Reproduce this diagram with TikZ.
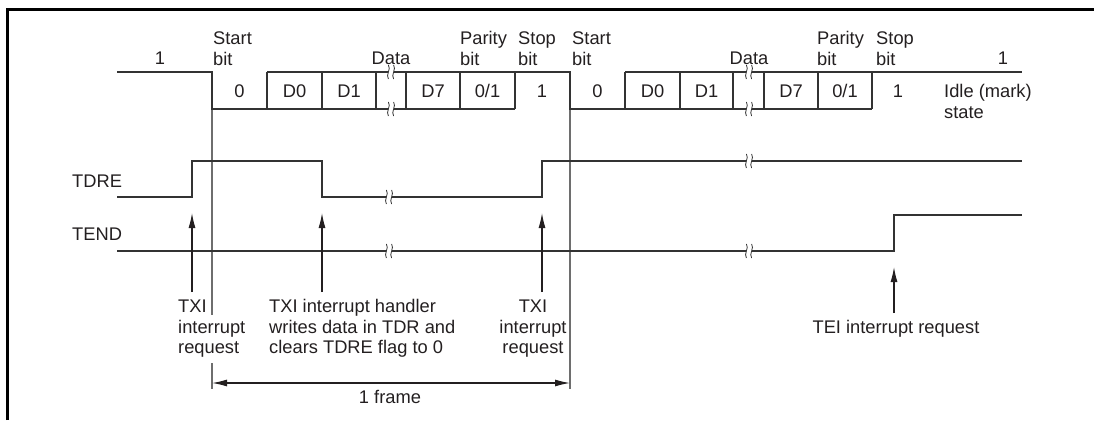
\documentclass[tikz,border=0pt]{standalone}
\usepackage{fontspec}
\setmainfont{Liberation Sans}
\usetikzlibrary{arrows.meta}
\definecolor{ink}{HTML}{231F20}
\definecolor{sigc}{HTML}{333333}
\definecolor{guidec}{HTML}{6E6E6E}
\newcommand\brkmark[2]{%
  \fill[white] (#1-2.6,#2-5) rectangle (#1+2.6,#2+5);
  \draw[brk] (#1-2.6,#2-7) .. controls (#1+0.4,#2-3) and (#1-5.6,#2+3) .. (#1-2.6,#2+7);
  \draw[brk] (#1+2.6,#2-7) .. controls (#1+5.6,#2-3) and (#1-0.4,#2+3) .. (#1+2.6,#2+7);}
\begin{document}
\begin{tikzpicture}[x=1pt,y=-1pt,
  txt/.style={inner sep=0pt, text=ink, font=\fontsize{18.3}{21}\selectfont},
  sig/.style={draw=sigc, line width=1.8pt, line join=miter},
  guide/.style={draw=guidec, line width=1.1pt},
  brk/.style={draw=sigc, line width=0.8pt},
  ptr/.style={draw=ink, line width=1.2pt, -{Latex[length=15pt,width=7pt]}},
  dimarrow/.style={draw=ink, line width=1.2pt, {Latex[length=15pt,width=7pt]}-{Latex[length=15pt,width=7pt]}}]
\useasboundingbox (0,0) rectangle (1094,420);
% border
\draw[line width=3pt, black] (7,420) -- (7,10) -- (1094,10);

% guide lines
\draw[guide] (212,109) -- (212,315);
\draw[guide] (212,363) -- (212,389);
\draw[guide] (570,109) -- (570,389);

% serial data signal
\draw[sig] (117,72) -- (212,72) -- (212,109) -- (515,109);
\draw[sig] (267,72) -- (570,72) -- (570,109) -- (872,109);
\draw[sig] (625,72) -- (1022,72);
\foreach \x in {267,322,376,406,460,515,625,680,733,764,818,872}
  \draw[sig] (\x,72) -- (\x,109);
\brkmark{391}{72}
\brkmark{391}{109}
\brkmark{749}{72}
\brkmark{749}{109}

% TDRE
\draw[sig] (117,197) -- (192,197) -- (192,161) -- (322,161) -- (322,197) -- (542,197) -- (542,161) -- (1022,161);
\brkmark{389}{197}
\brkmark{749}{161}
% TEND
\draw[sig] (117,251) -- (894,251) -- (894,215) -- (1022,215);
\brkmark{389}{251}
\brkmark{749}{251}

% top labels
\node[txt, anchor=base] (one1) at (160,64) {1};
\node[txt, anchor=base west] (st1a) at (213,45) {Start};
\node[txt, anchor=base west] (st1b) at (213,65) {bit};
\node[txt, anchor=base] (data1) at (391,64) {Data};
\node[txt, anchor=base west] (pa1a) at (460,45) {Parity};
\node[txt, anchor=base west] (pa1b) at (460,65) {bit};
\node[txt, anchor=base west] (sp1a) at (518,45) {Stop};
\node[txt, anchor=base west] (sp1b) at (518,65) {bit};
\node[txt, anchor=base west] (st2a) at (572,45) {Start};
\node[txt, anchor=base west] (st2b) at (572,65) {bit};
\node[txt, anchor=base] (data2) at (749,64) {Data};
\node[txt, anchor=base west] (pa2a) at (817,45) {Parity};
\node[txt, anchor=base west] (pa2b) at (817,65) {bit};
\node[txt, anchor=base west] (sp2a) at (876,45) {Stop};
\node[txt, anchor=base west] (sp2b) at (876,65) {bit};
\node[txt, anchor=base] (one2) at (1003,64) {1};

% bit values
\node[txt, anchor=base] (b0) at (239.5,97) {0};
\node[txt, anchor=base] (b1) at (294.5,97) {D0};
\node[txt, anchor=base] (b2) at (349,97) {D1};
\node[txt, anchor=base] (b3) at (433,97) {D7};
\node[txt, anchor=base] (b4) at (487.5,97) {0/1};
\node[txt, anchor=base] (b5) at (542,97) {1};
\node[txt, anchor=base] (c0) at (597.5,97) {0};
\node[txt, anchor=base] (c1) at (652.5,97) {D0};
\node[txt, anchor=base] (c2) at (706.5,97) {D1};
\node[txt, anchor=base] (c3) at (791,97) {D7};
\node[txt, anchor=base] (c4) at (845,97) {0/1};
\node[txt, anchor=base] (c5) at (898,97) {1};
\node[txt, anchor=base west] (idle1) at (944,97) {Idle (mark)};
\node[txt, anchor=base west] (idle2) at (944,118) {state};

% signal names
\node[txt, anchor=base west] (tdre) at (72,187) {TDRE};
\node[txt, anchor=base west] (tend) at (72,240) {TEND};

% arrows
\coordinate (a1b) at (192,292); \coordinate (a1t) at (192,213);
\coordinate (a2b) at (322,292); \coordinate (a2t) at (322,213);
\coordinate (a3b) at (542,292); \coordinate (a3t) at (542,213);
\coordinate (a4b) at (894,313); \coordinate (a4t) at (894,267);
\draw[ptr] (a1b) -- (a1t);
\draw[ptr] (a2b) -- (a2t);
\draw[ptr] (a3b) -- (a3t);
\draw[ptr] (a4b) -- (a4t);

% bottom texts
\node[txt, anchor=base west] (t1a) at (178,312) {TXI};
\node[txt, anchor=base west] (t1b) at (178,333) {interrupt};
\node[txt, anchor=base west] (t1c) at (178,353) {request};
\node[txt, anchor=base west] (t2a) at (269,312) {TXI interrupt handler};
\node[txt, anchor=base west] (t2b) at (269,333) {writes data in TDR and};
\node[txt, anchor=base west] (t2c) at (269,353) {clears TDRE flag to 0};
\node[txt, anchor=base] (t3a) at (533,312) {TXI};
\node[txt, anchor=base] (t3b) at (533,333) {interrupt};
\node[txt, anchor=base] (t3c) at (533,353) {request};
\node[txt, anchor=base] (t4) at (896,333) {TEI interrupt request};

% frame dimension
\coordinate (fl) at (212,383); \coordinate (fr) at (570,383);
\draw[dimarrow] (fl) -- (fr);
\node[txt, anchor=base] (frame) at (390,403) {1 frame};
\end{tikzpicture}
\end{document}
